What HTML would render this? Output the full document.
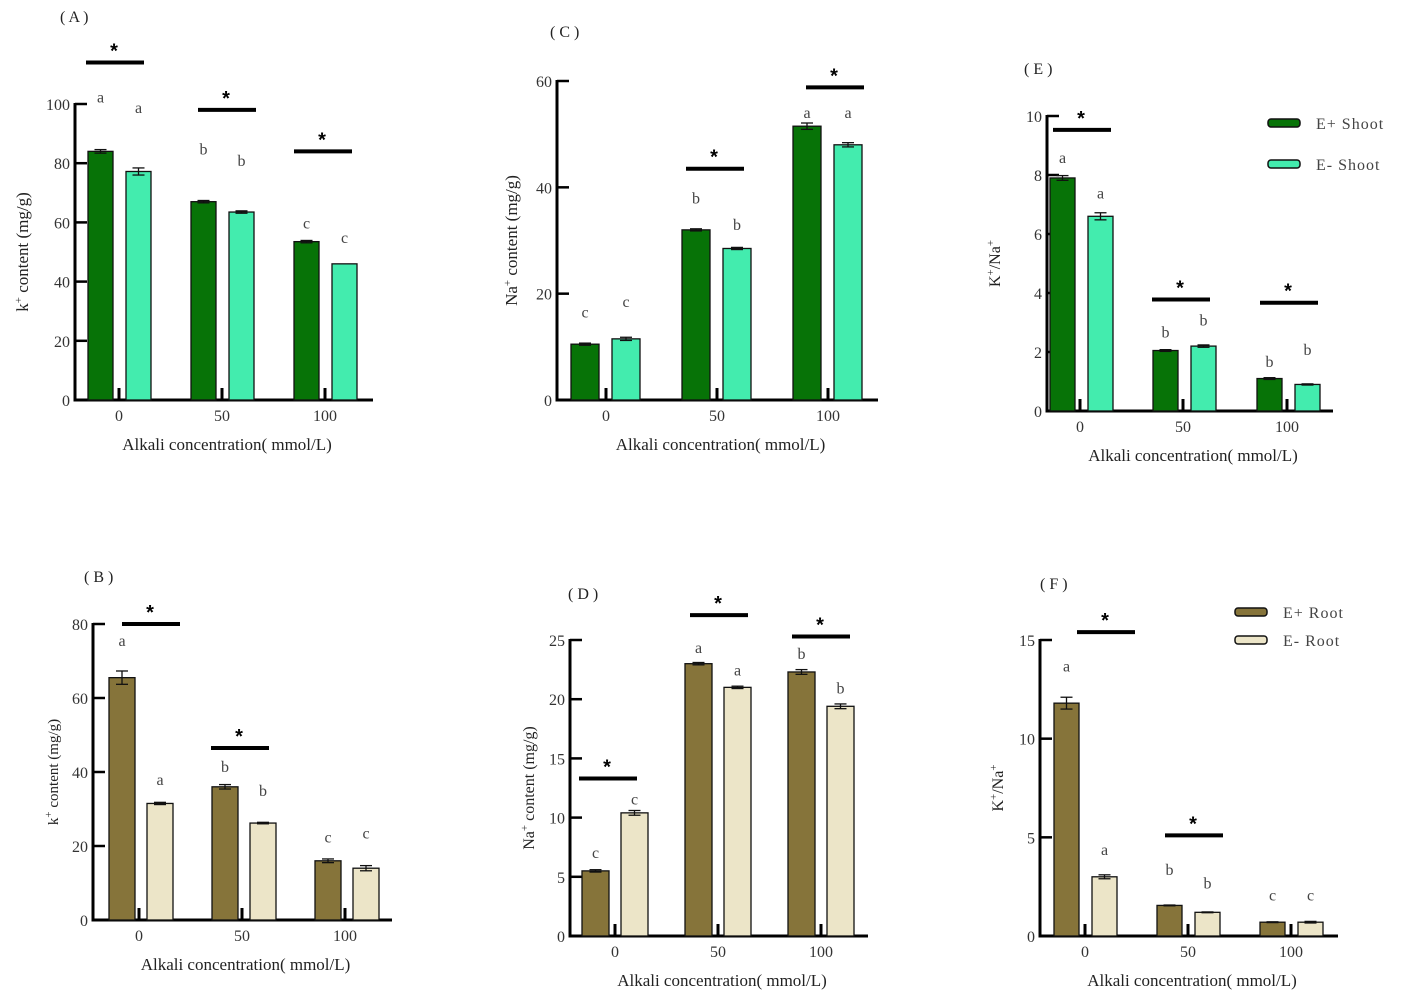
<!DOCTYPE html>
<html><head><meta charset="utf-8"><style>
body{margin:0;background:#fff;}
svg{display:block;font-family:"Liberation Serif",serif;}
</style></head><body>
<svg id="chart" width="1408" height="1000" viewBox="0 0 1408 1000"></svg>
<script>
const categories = ["0","50","100"];
const aPlus = [84, 67, 53.5], aMinus = [77.2, 63.5, 46];
const aErrP = [0.6, 0.4, 0.4], aErrM = [1.2, 0.4, 0];
const aLetP = ["a","b","c"], aLetM = ["a","b","c"];
const aLetPY = [100.5, 83, 58], aLetMY = [97, 79, 53];
const aTicks = [0,20,40,60,80,100];
const aSig = [0,1,2], aSigY = [114, 98, 84];

const bPlus = [65.5, 36, 16], bMinus = [31.5, 26.2, 14];
const bErrP = [1.8, 0.6, 0.5], bErrM = [0.3, 0.2, 0.7];
const bLetP = ["a","b","c"], bLetM = ["a","b","c"];
const bLetPY = [74, 40, 21], bLetMY = [36.5, 33.5, 22];
const bTicks = [0,20,40,60,80];
const bSig = [0,1], bSigY = [80, 46.5];

const cPlus = [10.5, 32, 51.5], cMinus = [11.5, 28.5, 48];
const cErrP = [0.2, 0.2, 0.6], cErrM = [0.3, 0.2, 0.4];
const cLetP = ["c","b","a"], cLetM = ["c","b","a"];
const cLetPY = [15.5, 37, 53], cLetMY = [17.5, 32, 53];
const cTicks = [0,20,40,60];
const cSig = [1,2], cSigY = [43.5, 58.8];

const dPlus = [5.5, 23, 22.3], dMinus = [10.4, 21, 19.4];
const dErrP = [0.1, 0.1, 0.2], dErrM = [0.2, 0.1, 0.2];
const dLetP = ["c","a","b"], dLetM = ["c","a","b"];
const dLetPY = [6.6, 23.9, 23.4], dLetMY = [11.1, 22, 20.5];
const dTicks = [0,5,10,15,20,25];
const dSig = [0,1,2], dSigY = [13.3, 27.1, 25.3];

const ePlus = [7.9, 2.05, 1.1], eMinus = [6.6, 2.2, 0.9];
const eErrP = [0.08, 0.03, 0.03], eErrM = [0.12, 0.04, 0.02];
const eLetP = ["a","b","b"], eLetM = ["a","b","b"];
const eLetPY = [8.4, 2.5, 1.5], eLetMY = [7.2, 2.9, 1.9];
const eTicks = [0,2,4,6,8,10];
const eSig = [0,1,2], eSigY = [9.53, 3.78, 3.67];

const fPlus = [11.8, 1.55, 0.7], fMinus = [3.0, 1.2, 0.7];
const fErrP = [0.3, 0.02, 0.02], fErrM = [0.1, 0.02, 0.04];
const fLetP = ["a","b","c"], fLetM = ["a","b","c"];
const fLetPY = [13.4, 3.1, 1.8], fLetMY = [4.1, 2.4, 1.8];
const fTicks = [0,5,10,15];
const fSig = [0,1], fSigY = [15.4, 5.1];

const svg = document.getElementById('chart');
const NS = 'http://www.w3.org/2000/svg';
function mk(tag, attrs, parent){const e=document.createElementNS(NS,tag);for(const k in attrs)e.setAttribute(k,attrs[k]);(parent||svg).appendChild(e);return e;}

function panel(p){
  const g = mk('g',{});
  
  
  const yS = v => p.y0 - v / p.max * (p.y0 - p.yTop);
  const centers = p.centers;
  const t = mk('text',{x:p.titleX,y:p.titleY,'font-size':16,fill:'#222'},g); t.textContent='( '+p.id.toUpperCase()+' )';
   
  const ya = mk('line',{x1:p.x0,x2:p.x0,y1:p.yTop-1,y2:p.y0+1.5,stroke:'#000','stroke-width':3},g);
   
  const xa = mk('line',{x1:p.x0-1.5,x2:p.x1,y1:p.y0,y2:p.y0,stroke:'#000','stroke-width':3},g);
   
  p.ticks.forEach(v=>{
    const y=yS(v);
    mk('line',{x1:p.x0,x2:p.x0+12,y1:y,y2:y,stroke:'#000','stroke-width':2.5},g);
    const tl=mk('text',{x:p.x0-5,y:y+6,'text-anchor':'end','font-size':16,fill:'#333'},g); tl.textContent=v;
     
  });
  centers.forEach((c,i)=>{
    mk('line',{x1:c,x2:c,y1:p.y0,y2:p.y0-12,stroke:'#000','stroke-width':3},g);
    const tl=mk('text',{x:c,y:p.y0+21,'text-anchor':'middle','font-size':16,fill:'#333'},g); tl.textContent=categories[i];
     
  });
  const series=[[p.plus,p.errP,p.c1,p.offP,p.letP,p.letPY,'eplus'],[p.minus,p.errM,p.c2,p.offM,p.letM,p.letMY,'eminus']];
  series.forEach(([vals,errs,col,off,lets,letY,nm])=>{
    vals.forEach((v,i)=>{
      const x=centers[i]+off, y=yS(v);
      const r=mk('rect',{x:x,y:y,width:p.bw,height:p.y0-y,fill:col,stroke:'#111','stroke-width':1.3},g);
       
      const mx=x+p.bw/2, e=errs[i];
      if(e>0){
        mk('line',{x1:mx,x2:mx,y1:yS(v+e),y2:yS(v-e),stroke:'#111','stroke-width':1.3},g);
        mk('line',{x1:mx-6,x2:mx+6,y1:yS(v+e),y2:yS(v+e),stroke:'#111','stroke-width':1.3},g);
        mk('line',{x1:mx-6,x2:mx+6,y1:yS(v-e),y2:yS(v-e),stroke:'#111','stroke-width':1.3},g);
      }
      const lt=mk('text',{x:mx,y:yS(letY[i]),'text-anchor':'middle','font-size':16,fill:'#444'},g); lt.textContent=lets[i];
       
    });
  });
  p.sig.forEach((ci,k)=>{
    const x1=p.sigX[k], x2=x1+58, y=yS(p.sigY[k]);
    const l=mk('line',{x1:x1,x2:x2,y1:y,y2:y,stroke:'#000','stroke-width':4},g);
     
    const s=mk('text',{x:x1+28,y:y-5,'text-anchor':'middle','font-size':20,'font-weight':'bold',fill:'#000','font-family':'Liberation Sans, sans-serif'},g); s.textContent='*';
     
  });
  const xt=mk('text',{x:(p.x0+p.x1)/2+3,y:p.y0+50,'text-anchor':'middle','font-size':17,fill:'#222'},g); xt.textContent='Alkali concentration( mmol/L)';
   
  const yt=mk('text',{x:0,y:0,'text-anchor':'middle','font-size':p.ytSize,fill:'#222',transform:`translate(${p.ytX},${(p.y0+p.yTop)/2}) rotate(-90)`},g);
  yt.innerHTML=p.ytitle;
   
}
function legend(x,y,gap,c1,c2,l1,l2){
  [[c1,l1,0],[c2,l2,gap]].forEach(([c,l,d])=>{
    const r=mk('rect',{x:x,y:y+d-4,width:32,height:8,rx:3,fill:c,stroke:'#111','stroke-width':1.5});
     
    const t=mk('text',{x:x+48,y:y+d+6,'font-size':16,fill:'#444','letter-spacing':'1'}); t.textContent=l;
     
  });
}
const G1='#077307', G2='#43ecae', B1='#86743a', B2='#ece5c8';
const kT='k<tspan baseline-shift="super" font-size="11">+</tspan> content (mg/g)';
const naT='Na<tspan baseline-shift="super" font-size="11">+</tspan> content (mg/g)';
const rT='K<tspan baseline-shift="super" font-size="11">+</tspan>/Na<tspan baseline-shift="super" font-size="11">+</tspan>';
panel({id:'a',x0:75,x1:373,y0:400,yTop:104,max:100,centers:[119,222,325],bw:25,offP:-31,offM:7,c1:G1,c2:G2,
 plus:aPlus,minus:aMinus,errP:aErrP,errM:aErrM,letP:aLetP,letM:aLetM,letPY:aLetPY,letMY:aLetMY,ticks:aTicks,sig:aSig,sigY:aSigY,sigX:[86,198,294],
 titleX:60,titleY:22,ytitle:kT,ytX:28,ytSize:17});
panel({id:'b',x0:93,x1:392,y0:920,yTop:624,max:80,centers:[139,242,345],bw:26,offP:-30,offM:8,c1:B1,c2:B2,
 plus:bPlus,minus:bMinus,errP:bErrP,errM:bErrM,letP:bLetP,letM:bLetM,letPY:bLetPY,letMY:bLetMY,ticks:bTicks,sig:bSig,sigY:bSigY,sigX:[122,211],
 titleX:84,titleY:582,ytitle:kT,ytX:58,ytSize:15});
panel({id:'c',x0:557,x1:878,y0:400,yTop:81,max:60,centers:[606,717,828],bw:28,offP:-35,offM:6,c1:G1,c2:G2,
 plus:cPlus,minus:cMinus,errP:cErrP,errM:cErrM,letP:cLetP,letM:cLetM,letPY:cLetPY,letMY:cLetMY,ticks:cTicks,sig:cSig,sigY:cSigY,sigX:[686,806],
 titleX:550,titleY:37,ytitle:naT,ytX:517,ytSize:17});
panel({id:'d',x0:570,x1:868,y0:936,yTop:640,max:25,centers:[615,718,821],bw:27,offP:-33,offM:6,c1:B1,c2:B2,
 plus:dPlus,minus:dMinus,errP:dErrP,errM:dErrM,letP:dLetP,letM:dLetM,letPY:dLetPY,letMY:dLetMY,ticks:dTicks,sig:dSig,sigY:dSigY,sigX:[579,690,792],
 titleX:568,titleY:599,ytitle:naT,ytX:534,ytSize:16});
panel({id:'e',x0:1047,x1:1333,y0:411,yTop:116,max:10,centers:[1080,1183,1287],bw:25,offP:-30,offM:8,c1:G1,c2:G2,
 plus:ePlus,minus:eMinus,errP:eErrP,errM:eErrM,letP:eLetP,letM:eLetM,letPY:eLetPY,letMY:eLetMY,ticks:eTicks,sig:eSig,sigY:eSigY,sigX:[1053,1152,1260],
 titleX:1024,titleY:74,ytitle:rT,ytX:1000,ytSize:16});
panel({id:'f',x0:1040,x1:1338,y0:936,yTop:640,max:15,centers:[1085,1188,1291],bw:25,offP:-31,offM:7,c1:B1,c2:B2,
 plus:fPlus,minus:fMinus,errP:fErrP,errM:fErrM,letP:fLetP,letM:fLetM,letPY:fLetPY,letMY:fLetMY,ticks:fTicks,sig:fSig,sigY:fSigY,sigX:[1077,1165],
 titleX:1040,titleY:589,ytitle:rT,ytX:1003,ytSize:16});
legend(1268,123,41,G1,G2,'E+ Shoot','E- Shoot');
legend(1235,612,28,B1,B2,'E+ Root','E- Root');
</script>
</body></html>
